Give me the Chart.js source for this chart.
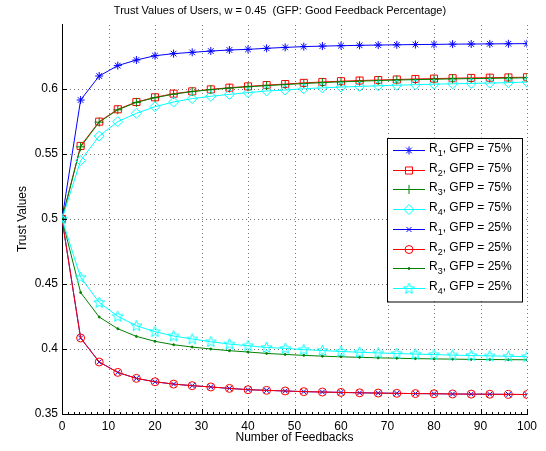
<!DOCTYPE html>
<html>
<head>
<meta charset="utf-8">
<script src="https://cdn.jsdelivr.net/npm/chart.js@4/dist/chart.umd.min.js"></script>
<style>
  body { margin: 0; background: #fff; }
  #wrap { width: 546px; height: 451px; }
</style>
</head>
<body>
<div id="wrap"><canvas id="trustChart" width="546" height="451"></canvas></div>
<script>
// Data

const feedbacks = [0, 4, 8, 12, 16, 20, 24, 28, 32, 36, 40, 44, 48, 52, 56, 60, 64, 68, 72, 76, 80, 84, 88, 92, 96, 100];

const r1Good = [0.5, 0.5915, 0.610, 0.618, 0.6223, 0.6256, 0.6272, 0.6282, 0.6292, 0.630, 0.6305, 0.6313, 0.632, 0.6326, 0.633, 0.6333, 0.6336, 0.6338, 0.634, 0.6342, 0.6343, 0.6345, 0.6346, 0.6347, 0.6348, 0.6349];
const r2Good = [0.5, 0.5562, 0.5749, 0.5844, 0.590, 0.5936, 0.5964, 0.5982, 0.5997, 0.601, 0.602, 0.603, 0.6038, 0.6047, 0.6054, 0.606, 0.6065, 0.6069, 0.6073, 0.6077, 0.608, 0.6083, 0.6085, 0.6087, 0.6089, 0.609];
const r3Good = [0.5, 0.5555, 0.5745, 0.584, 0.5897, 0.5933, 0.596, 0.598, 0.5995, 0.6007, 0.6017, 0.6026, 0.6034, 0.6042, 0.6049, 0.6055, 0.606, 0.6065, 0.6069, 0.6072, 0.6075, 0.6078, 0.608, 0.6082, 0.6084, 0.6086];
const r4Good = [0.5, 0.5449, 0.5638, 0.5749, 0.5813, 0.5864, 0.590, 0.5926, 0.5944, 0.5959, 0.5972, 0.5985, 0.5992, 0.6002, 0.6009, 0.6015, 0.602, 0.6025, 0.6029, 0.6033, 0.6037, 0.604, 0.6043, 0.6046, 0.6049, 0.6053];

const r1Bad = [0.5, 0.4085, 0.390, 0.382, 0.3774, 0.3748, 0.373, 0.3718, 0.3708, 0.3697, 0.3687, 0.3682, 0.3677, 0.3672, 0.3669, 0.3666, 0.3663, 0.3661, 0.3659, 0.3657, 0.3656, 0.3654, 0.3653, 0.3652, 0.3651, 0.365];
const r2Bad = [0.5, 0.4085, 0.390, 0.382, 0.3774, 0.3748, 0.373, 0.3718, 0.3708, 0.3697, 0.3687, 0.3682, 0.3677, 0.3672, 0.3669, 0.3666, 0.3663, 0.3661, 0.3659, 0.3657, 0.3656, 0.3654, 0.3653, 0.3652, 0.3651, 0.365];
const r3Bad = [0.5, 0.4435, 0.4246, 0.4156, 0.4097, 0.4059, 0.4033, 0.4015, 0.400, 0.3987, 0.3977, 0.3966, 0.3958, 0.3951, 0.3945, 0.394, 0.3936, 0.3932, 0.3929, 0.3926, 0.3924, 0.3922, 0.392, 0.3919, 0.3918, 0.3917];
const r4Bad = [0.5, 0.4551, 0.4358, 0.4251, 0.4179, 0.4133, 0.41, 0.4077, 0.4056, 0.4038, 0.4025, 0.4012, 0.4005, 0.3995, 0.3988, 0.3981, 0.3975, 0.397, 0.3965, 0.3961, 0.3957, 0.3953, 0.395, 0.3947, 0.3944, 0.3941];

const seriesUsers = ['1', '2', '3', '4', '1', '2', '3', '4'];
const seriesGfp = ['75%', '75%', '75%', '75%', '25%', '25%', '25%', '25%'];

const xTickLabels = ['0', '10', '20', '30', '40', '50', '60', '70', '80', '90', '100'];
const yTickLabels = ['0.35', '0.4', '0.45', '0.5', '0.55', '0.6'];

const chartTitle = 'Trust Values of Users, w = 0.45  (GFP: Good Feedback Percentage)';

const FONT = 'Liberation Sans, Arial, Helvetica, sans-serif';

// Pentagram marker (Chart.js has no 5 point star)

function makePentagram(color)
{
  const c = document.createElement('canvas');
  c.width = 13;
  c.height = 13;
  const g = c.getContext('2d');
  g.strokeStyle = color;
  g.lineWidth = 1;
  g.beginPath();
  for (let i = 0; i < 10; i++)
  {
    const r = i % 2 === 0 ? 5.8 : 2.4;
    const a = -Math.PI / 2 + i * Math.PI / 5;
    const px = 6.5 + r * Math.cos(a);
    const py = 6.8 + r * Math.sin(a);
    if (i === 0) g.moveTo(px, py); else g.lineTo(px, py);
  }
  g.closePath();
  g.stroke();
  return c;
}

const pentagram = makePentagram('#00ffff');

function toPoints(values)
{
  return values.map((v, i) => ({ x: feedbacks[i], y: v }));
}

const styles = [
  { color: '#0000ff', pointStyle: 'star', radius: 4 },
  { color: '#ff0000', pointStyle: 'rect', radius: 5 },
  { color: '#008000', pointStyle: 'cross', radius: 4.5 },
  { color: '#00ffff', pointStyle: 'rectRot', radius: 5 },
  { color: '#0000ff', pointStyle: 'crossRot', radius: 3.5 },
  { color: '#ff0000', pointStyle: 'circle', radius: 4 },
  { color: '#008000', pointStyle: 'circle', radius: 1, filled: true },
  { color: '#00ffff', pointStyle: pentagram, radius: 6 }
];

const allValues = [r1Good, r2Good, r3Good, r4Good, r1Bad, r2Bad, r3Bad, r4Bad];

const datasets = allValues.map((vals, i) => ({
  label: 'R' + seriesUsers[i] + ', GFP = ' + seriesGfp[i],
  data: toPoints(vals),
  borderColor: styles[i].color,
  backgroundColor: styles[i].filled ? styles[i].color : 'rgba(0,0,0,0)',
  borderWidth: 1,
  pointStyle: styles[i].pointStyle,
  pointRadius: styles[i].radius,
  pointBorderWidth: 1,
  pointBorderColor: styles[i].color,
  pointBackgroundColor: styles[i].filled ? styles[i].color : 'rgba(0,0,0,0)',
  tension: 0,
  order: 8 - i
}));

// Dotted grid, drawn under the lines

const gridPlugin =
{
  id: 'dottedGrid',
  beforeDatasetsDraw(chart)
  {
    const { ctx, chartArea, scales } = chart;
    ctx.save();
    ctx.strokeStyle = 'rgba(0,0,0,0.55)';
    ctx.lineWidth = 1;
    ctx.setLineDash([1, 3]);
    ctx.beginPath();
    for (let v = 10; v <= 100; v += 10)
    {
      const px = Math.round(scales.x.getPixelForValue(v)) + 0.5;
      ctx.moveTo(px, chartArea.bottom);
      ctx.lineTo(px, chartArea.top);
    }
    for (let k = 1; k < yTickLabels.length; k++)
    {
      const py = Math.round(scales.y.getPixelForValue(0.35 + k * 0.05)) + 0.5;
      ctx.moveTo(chartArea.left, py);
      ctx.lineTo(chartArea.right, py);
    }
    ctx.stroke();
    ctx.restore();
  }
};

// Inward ticks like MATLAB, plus the title

const tickPlugin =
{
  id: 'inwardTicks',
  afterDraw(chart)
  {
    const { ctx, chartArea, scales } = chart;
    ctx.save();
    ctx.strokeStyle = '#000';
    ctx.lineWidth = 1;
    ctx.beginPath();
    for (let v = 0; v <= 100.001; v += 1.25)
    {
      const px = Math.round(scales.x.getPixelForValue(v)) + 0.5;
      const major = Math.abs(v / 10 - Math.round(v / 10)) < 1e-6;
      ctx.moveTo(px, chartArea.bottom);
      ctx.lineTo(px, chartArea.bottom - (major ? 5 : 2));
    }
    for (let k = 0; k < yTickLabels.length; k++)
    {
      const py = Math.round(scales.y.getPixelForValue(0.35 + k * 0.05)) + 0.5;
      ctx.moveTo(chartArea.left, py);
      ctx.lineTo(chartArea.left + 5, py);
    }
    ctx.stroke();

    ctx.fillStyle = '#000';
    ctx.font = '11px ' + FONT;
    ctx.textAlign = 'center';
    ctx.textBaseline = 'middle';
    ctx.fillText(chartTitle, 280, 11);
    ctx.restore();
  }
};

// Legend box inside the axes

const legendPlugin =
{
  id: 'boxLegend',
  afterDraw(chart)
  {
    const ctx = chart.ctx;
    const left = 387, top = 137.5, right = 522, bottom = 301;
    const rowH = 19.7;
    ctx.save();
    ctx.fillStyle = '#fff';
    ctx.fillRect(left, top, right - left, bottom - top);
    ctx.strokeStyle = '#000';
    ctx.lineWidth = 1;
    ctx.strokeRect(Math.round(left) + 0.5, Math.round(top) + 0.5, right - left, bottom - top);

    chart.data.datasets.forEach((ds, i) =>
    {
      const cy = 150 + i * rowH;
      ctx.strokeStyle = ds.borderColor;
      ctx.lineWidth = 1;
      ctx.beginPath();
      ctx.moveTo(393, Math.round(cy) + 0.5);
      ctx.lineTo(425, Math.round(cy) + 0.5);
      ctx.stroke();

      ctx.fillStyle = ds.pointBackgroundColor;
      Chart.helpers.drawPoint(ctx, {
        pointStyle: ds.pointStyle,
        radius: ds.pointRadius,
        rotation: 0,
        borderWidth: 1
      }, 409, Math.round(cy) + 0.5);

      ctx.fillStyle = '#000';
      ctx.textBaseline = 'alphabetic';
      ctx.textAlign = 'left';
      ctx.font = '12px ' + FONT;
      let tx = 429;
      ctx.fillText('R', tx, cy + 2);
      tx += ctx.measureText('R').width;
      ctx.font = '9px ' + FONT;
      ctx.fillText(seriesUsers[i], tx, cy + 6);
      tx += ctx.measureText(seriesUsers[i]).width;
      ctx.font = '12px ' + FONT;
      ctx.fillText(', GFP = ' + seriesGfp[i], tx, cy + 2);
    });
    ctx.restore();
  }
};

const chart = new Chart(document.getElementById('trustChart'),
{
  type: 'line',
  data: { datasets: datasets },
  options:
  {
    responsive: false,
    animation: false,
    layout: { padding: { top: 24, left: 0, right: 19, bottom: 0 } },
    plugins:
    {
      legend: { display: false },
      tooltip: { enabled: false },
      title: { display: false }
    },
    scales:
    {
      x:
      {
        type: 'linear',
        min: 0,
        max: 100,
        afterFit: (s) => { s.height = 37; },
        ticks:
        {
          stepSize: 10,
          color: '#000',
          font: { family: FONT, size: 12 },
          padding: 5,
          maxRotation: 0,
          callback: (v) => xTickLabels[Math.round(v / 10)]
        },
        grid: { display: false, drawTicks: false },
        border: { display: true, color: '#000', width: 1 },
        title:
        {
          display: true,
          text: 'Number of Feedbacks',
          color: '#000',
          font: { family: FONT, size: 12 },
          padding: { top: 0, bottom: 6 }
        }
      },
      y:
      {
        min: 0.35,
        max: 0.65,
        afterFit: (s) => { s.width = 62; },
        ticks:
        {
          stepSize: 0.05,
          color: '#000',
          font: { family: FONT, size: 12 },
          padding: 4,
          callback: (v) =>
          {
            const idx = Math.round((v - 0.35) / 0.05);
            return yTickLabels[idx] !== undefined ? yTickLabels[idx] : '';
          }
        },
        grid: { display: false, drawTicks: false },
        border: { display: true, color: '#000', width: 1 },
        title:
        {
          display: true,
          text: 'Trust Values',
          color: '#000',
          font: { family: FONT, size: 12 },
          padding: { top: 15, bottom: 0 }
        }
      }
    }
  },
  plugins: [gridPlugin, tickPlugin, legendPlugin]
});
</script>
</body>
</html>
